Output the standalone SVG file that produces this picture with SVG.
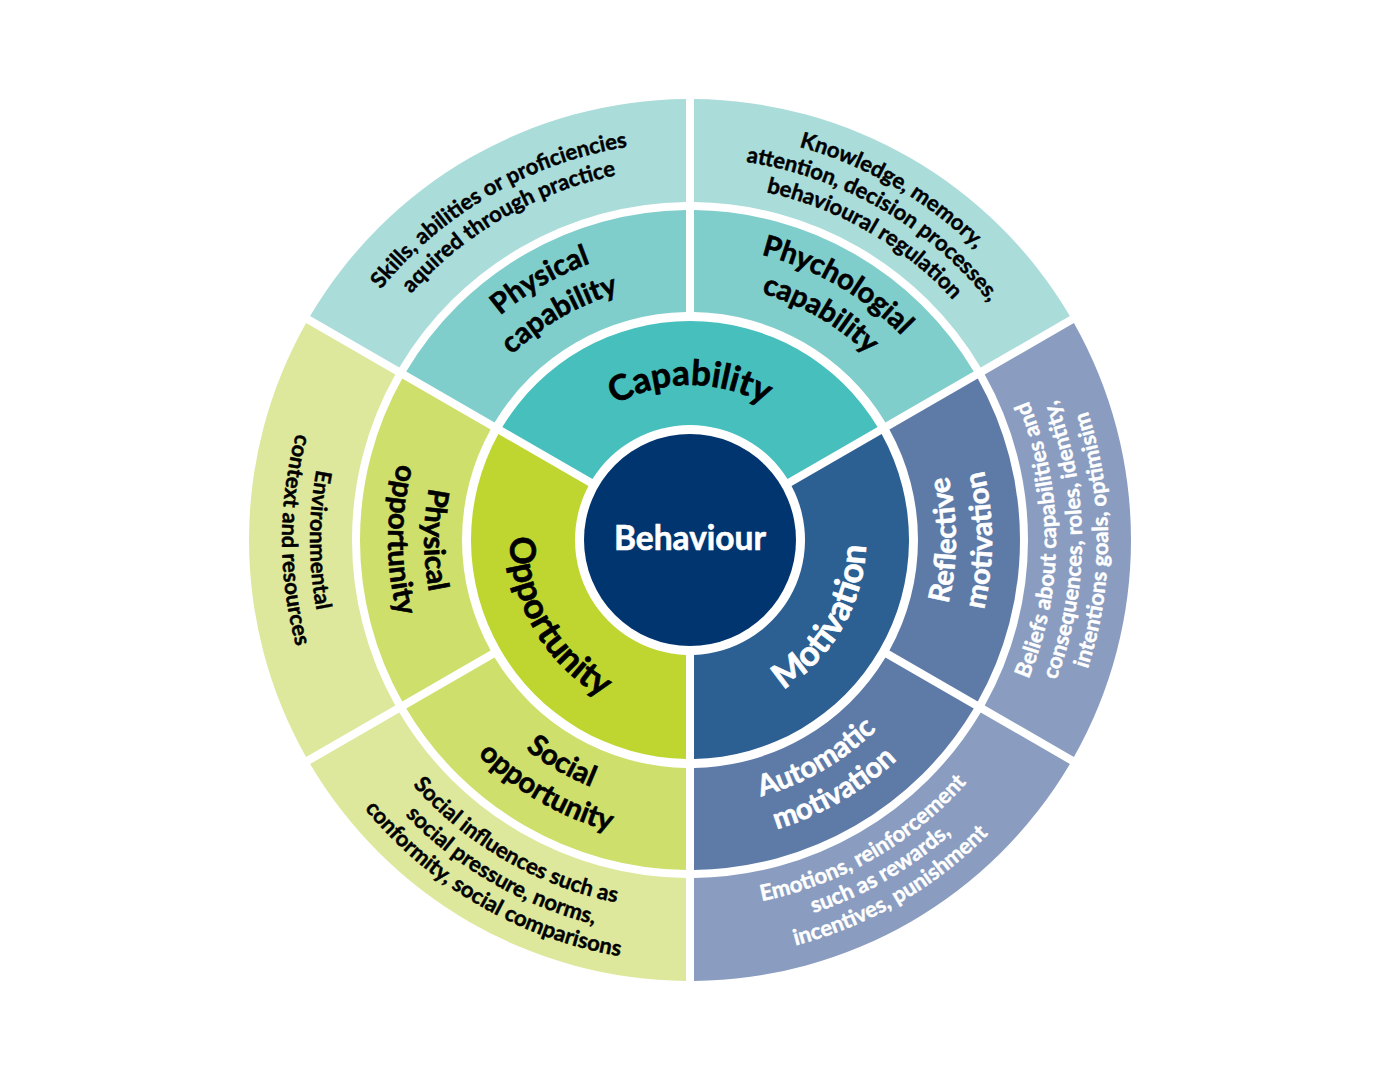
<svg xmlns="http://www.w3.org/2000/svg" width="1380" height="1080" viewBox="0 0 1380 1080">
<style>
  text { font-family: Lato, "Open Sans", "Liberation Sans", sans-serif; font-weight: 700; }
  .t1 { font-size: 35px; stroke-width: 0.7px; }
  .t2 { font-size: 29px; stroke-width: 0.6px; }
  .t3 { font-size: 22px; stroke-width: 0.45px; }
  .dark { fill: #000000; stroke: #000000; }
  .light { fill: #ffffff; stroke: #ffffff; }
  .cap1 { fill: #47BFBD; } .cap2 { fill: #80CECB; } .cap3 { fill: #AADCDA; }
  .opp1 { fill: #BFD630; } .opp2 { fill: #CEDF6B; } .opp3 { fill: #DDE89C; }
  .mot1 { fill: #2C5F92; } .mot2 { fill: #5E7BA8; } .mot3 { fill: #8A9DC0; }
</style>
<defs>
  <!-- ring 1 text arcs -->
  <path id="a-cap" d="M 555.77 462.5 A 155 155 0 0 1 824.23 462.5"/>
  <path id="a-mot" d="M 690 716 A 176 176 0 0 0 842.42 452"/>
  <path id="a-opp" d="M 534.12 450 A 180 180 0 0 0 690 720"/>
  <!-- ring 2 text arcs -->
  <path id="a-pc1" d="M 396 540 A 294 294 0 0 1 837 285.39"/>
  <path id="a-pc2" d="M 433 540 A 257 257 0 0 1 818.5 317.43"/>
  <path id="a-sc1" d="M 543 285.39 A 294 294 0 0 1 984 540"/>
  <path id="a-sc2" d="M 561.5 317.43 A 257 257 0 0 1 947 540"/>
  <path id="a-rm1" d="M 823 770.36 A 266 266 0 0 0 823 309.64"/>
  <path id="a-rm2" d="M 841 801.54 A 302 302 0 0 0 841 278.46"/>
  <path id="a-am1" d="M 557 770.36 A 266 266 0 0 0 956 540"/>
  <path id="a-am2" d="M 539 801.54 A 302 302 0 0 0 992 540"/>
  <path id="a-so1" d="M 424 540 A 266 266 0 0 0 823 770.36"/>
  <path id="a-so2" d="M 388 540 A 302 302 0 0 0 841 801.54"/>
  <path id="a-po1" d="M 557 309.64 A 266 266 0 0 0 557 770.36"/>
  <path id="a-po2" d="M 539 278.46 A 302 302 0 0 0 539 801.54"/>
  <!-- ring 3 text arcs -->
  <path id="a-sk1" d="M 292 540 A 398 398 0 0 1 889 195.32"/>
  <path id="a-sk2" d="M 318 540 A 372 372 0 0 1 876 217.84"/>
  <path id="a-kn1" d="M 486 186.66 A 408 408 0 0 1 1098 540"/>
  <path id="a-kn2" d="M 499 209.18 A 382 382 0 0 1 1072 540"/>
  <path id="a-kn3" d="M 512 231.69 A 356 356 0 0 1 1046 540"/>
  <path id="a-be1" d="M 873 856.97 A 366 366 0 0 0 873 223.03"/>
  <path id="a-be2" d="M 886 879.48 A 392 392 0 0 0 886 200.52"/>
  <path id="a-be3" d="M 899 902 A 418 418 0 0 0 899 178"/>
  <path id="a-em1" d="M 506 858.7 A 368 368 0 0 0 1058 540"/>
  <path id="a-em2" d="M 493.5 880.35 A 393 393 0 0 0 1083 540"/>
  <path id="a-em3" d="M 480.5 902.86 A 419 419 0 0 0 1109 540"/>
  <path id="a-si1" d="M 320 540 A 370 370 0 0 0 875 860.43"/>
  <path id="a-si2" d="M 294 540 A 396 396 0 0 0 888 882.95"/>
  <path id="a-si3" d="M 268 540 A 422 422 0 0 0 901 905.46"/>
  <path id="a-en1" d="M 500 210.91 A 380 380 0 0 0 500 869.09"/>
  <path id="a-en2" d="M 486 186.66 A 408 408 0 0 0 486 893.34"/>
</defs>

<rect x="0" y="0" width="1380" height="1080" fill="#ffffff"/>

<!-- Ring 3 -->
<g id="skills">
  <path class="cap3" d="M 310.10 316.05 A 441 441 0 0 1 686.00 99.02 L 686.00 202.02 A 338 338 0 0 0 399.30 367.55 Z"/>
  <text class="t3 dark" text-anchor="middle"><textPath href="#a-sk1" startOffset="50%">Skills, abilities or proficiencies</textPath></text>
  <text class="t3 dark" text-anchor="middle"><textPath href="#a-sk2" startOffset="50%">aquired through practice</textPath></text>
</g>
<g id="knowledge">
  <path class="cap3" d="M 694.00 99.02 A 441 441 0 0 1 1069.90 316.05 L 980.70 367.55 A 338 338 0 0 0 694.00 202.02 Z"/>
  <text class="t3 dark" text-anchor="middle"><textPath href="#a-kn1" startOffset="50%">Knowledge, memory,</textPath></text>
  <text class="t3 dark" text-anchor="middle"><textPath href="#a-kn2" startOffset="50%">attention, decision processes,</textPath></text>
  <text class="t3 dark" text-anchor="middle"><textPath href="#a-kn3" startOffset="50%">behavioural regulation</textPath></text>
</g>
<g id="beliefs">
  <path class="mot3" d="M 1073.90 322.97 A 441 441 0 0 1 1073.90 757.03 L 984.70 705.52 A 338 338 0 0 0 984.70 374.48 Z"/>
  <text class="t3 light" text-anchor="middle"><textPath href="#a-be1" startOffset="50%">Beliefs about capabilities and</textPath></text>
  <text class="t3 light" text-anchor="middle"><textPath href="#a-be2" startOffset="50%">consequences, roles, identity,</textPath></text>
  <text class="t3 light" text-anchor="middle"><textPath href="#a-be3" startOffset="50%">intentions goals, optimisim</textPath></text>
</g>
<g id="emotions">
  <path class="mot3" d="M 1069.90 763.95 A 441 441 0 0 1 694.00 980.98 L 694.00 877.98 A 338 338 0 0 0 980.70 712.45 Z"/>
  <text class="t3 light" text-anchor="middle"><textPath href="#a-em1" startOffset="50%">Emotions, reinforcement</textPath></text>
  <text class="t3 light" text-anchor="middle"><textPath href="#a-em2" startOffset="50%">such as rewards,</textPath></text>
  <text class="t3 light" text-anchor="middle"><textPath href="#a-em3" startOffset="50%">incentives, punishment</textPath></text>
</g>
<g id="social-influences">
  <path class="opp3" d="M 686.00 980.98 A 441 441 0 0 1 310.10 763.95 L 399.30 712.45 A 338 338 0 0 0 686.00 877.98 Z"/>
  <text class="t3 dark" text-anchor="middle"><textPath href="#a-si1" startOffset="50%">Social influences such as</textPath></text>
  <text class="t3 dark" text-anchor="middle"><textPath href="#a-si2" startOffset="50%">social pressure, norms,</textPath></text>
  <text class="t3 dark" text-anchor="middle"><textPath href="#a-si3" startOffset="50%">conformity, social comparisons</textPath></text>
</g>
<g id="environmental">
  <path class="opp3" d="M 306.10 757.03 A 441 441 0 0 1 306.10 322.97 L 395.30 374.48 A 338 338 0 0 0 395.30 705.52 Z"/>
  <text class="t3 dark" text-anchor="middle"><textPath href="#a-en1" startOffset="50%">Environmental</textPath></text>
  <text class="t3 dark" text-anchor="middle"><textPath href="#a-en2" startOffset="50%">context and resources</textPath></text>
</g>

<!-- Ring 2 -->
<g id="physical-capability">
  <path class="cap2" d="M 406.23 371.55 A 330 330 0 0 1 686.00 210.02 L 686.00 312.04 A 228 228 0 0 0 494.58 422.55 Z"/>
  <text class="t2 dark" text-anchor="middle"><textPath href="#a-pc1" startOffset="50%">Physical</textPath></text>
  <text class="t2 dark" text-anchor="middle"><textPath href="#a-pc2" startOffset="50%">capability</textPath></text>
</g>
<g id="psychological-capability">
  <path class="cap2" d="M 694.00 210.02 A 330 330 0 0 1 973.77 371.55 L 885.42 422.55 A 228 228 0 0 0 694.00 312.04 Z"/>
  <text class="t2 dark" text-anchor="middle"><textPath href="#a-sc1" startOffset="50%">Phychologial</textPath></text>
  <text class="t2 dark" text-anchor="middle"><textPath href="#a-sc2" startOffset="50%">capability</textPath></text>
</g>
<g id="reflective-motivation">
  <path class="mot2" d="M 977.77 378.48 A 330 330 0 0 1 977.77 701.52 L 889.42 650.52 A 228 228 0 0 0 889.42 429.48 Z"/>
  <text class="t2 light" text-anchor="middle"><textPath href="#a-rm1" startOffset="50%">Reflective</textPath></text>
  <text class="t2 light" text-anchor="middle"><textPath href="#a-rm2" startOffset="50%">motivation</textPath></text>
</g>
<g id="automatic-motivation">
  <path class="mot2" d="M 973.77 708.45 A 330 330 0 0 1 694.00 869.98 L 694.00 767.97 A 228 228 0 0 0 885.42 657.45 Z"/>
  <text class="t2 light" text-anchor="middle"><textPath href="#a-am1" startOffset="50%">Automatic</textPath></text>
  <text class="t2 light" text-anchor="middle"><textPath href="#a-am2" startOffset="50%">motivation</textPath></text>
</g>
<g id="social-opportunity">
  <path class="opp2" d="M 686.00 869.98 A 330 330 0 0 1 406.23 708.45 L 494.58 657.45 A 228 228 0 0 0 686.00 767.97 Z"/>
  <text class="t2 dark" text-anchor="middle"><textPath href="#a-so1" startOffset="50%">Social</textPath></text>
  <text class="t2 dark" text-anchor="middle"><textPath href="#a-so2" startOffset="50%">opportunity</textPath></text>
</g>
<g id="physical-opportunity">
  <path class="opp2" d="M 402.23 701.52 A 330 330 0 0 1 402.23 378.48 L 490.58 429.48 A 228 228 0 0 0 490.58 650.52 Z"/>
  <text class="t2 dark" text-anchor="middle"><textPath href="#a-po1" startOffset="50%">Physical</textPath></text>
  <text class="t2 dark" text-anchor="middle"><textPath href="#a-po2" startOffset="50%">opportunity</textPath></text>
</g>

<!-- Ring 1 -->
<g id="capability">
  <path class="cap1" d="M 502.37 427.05 A 219 219 0 0 1 877.63 427.05 L 787.53 479.07 A 115 115 0 0 0 592.47 479.07 Z"/>
  <text class="t1 dark" text-anchor="middle"><textPath href="#a-cap" startOffset="50%">Capability</textPath></text>
</g>
<g id="motivation">
  <path class="mot1" d="M 881.63 433.98 A 219 219 0 0 1 694.00 758.96 L 694.00 654.93 A 115 115 0 0 0 791.53 486.00 Z"/>
  <text class="t1 light" text-anchor="middle"><textPath href="#a-mot" startOffset="50%">Motivation</textPath></text>
</g>
<g id="opportunity">
  <path class="opp1" d="M 686.00 758.96 A 219 219 0 0 1 498.37 433.98 L 588.47 486.00 A 115 115 0 0 0 686.00 654.93 Z"/>
  <text class="t1 dark" text-anchor="middle"><textPath href="#a-opp" startOffset="50%">Opportunity</textPath></text>
</g>

<!-- Centre -->
<g id="behaviour">
  <circle cx="690" cy="540" r="106" fill="#00356F"/>
  <text x="690" y="550" text-anchor="middle" class="light" style="font-size:33.5px; stroke-width:0.6px">Behaviour</text>
</g>
</svg>
